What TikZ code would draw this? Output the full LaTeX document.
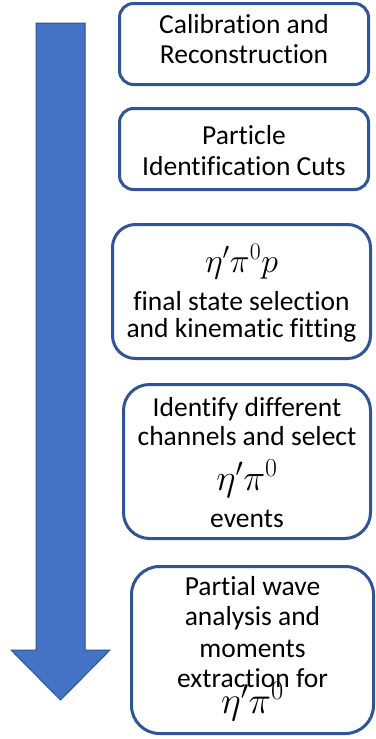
\RequirePackage{fix-cm}
\documentclass[tikz,border=0pt]{standalone}
\usepackage[no-math]{fontspec}
\setmainfont{Carlito}[Ligatures=NoCommon]
\definecolor{arrowfill}{HTML}{4472C4}
\definecolor{arrowline}{HTML}{2F528F}
\definecolor{boxline}{HTML}{2F5597}
% invisible struts that fix the height of a first line and the depth of a last line
\newcommand{\topstrut}[1]{\rule{0pt}{#1}}
\newcommand{\botstrut}[1]{\rule[-#1]{0pt}{#1}}
\newcommand{\bigmath}[2]{{\fontsize{#1}{#1}\selectfont$#2$}}
% always keep the baselines at the given skip
\lineskiplimit=-100pt
\tikzset{
  stage/.style={draw=boxline, line width=3pt, fill=white, align=center,
    inner sep=0pt, text=black, font=\fontsize{27.5}{30}\selectfont},
}
\begin{document}
\begin{tikzpicture}[x=1pt, y=-1pt]
  \useasboundingbox (0,0) rectangle (375,739);

  % the long downward arrow on the left
  \fill[arrowfill, draw=arrowline, line width=1pt]
    (36,23) -- (85,23) -- (85,650) -- (110,650) -- (60.5,700)
    -- (11,650) -- (36,650) -- cycle;

  % analysis stages
  \node[stage, rounded corners=14pt, minimum width=249pt, minimum height=81pt]
    (calib) at (244,44)
    {\topstrut{25pt}Calibration and\\Reconstruction\botstrut{17pt}};

  \node[stage, rounded corners=14pt, minimum width=249pt, minimum height=81pt]
    (pid) at (244,149)
    {\topstrut{25pt}Particle\\[1pt]Identification Cuts\botstrut{4pt}};

  \node[stage, rounded corners=23pt, minimum width=258pt, minimum height=134pt,
    font=\fontsize{27.5}{27}\selectfont]
    (fstate) at (241.5,291.5)
    {\topstrut{36pt}\bigmath{34}{\eta'\pi^0p}\\[11pt]final state selection\\
     and kinematic fitting\botstrut{10pt}};

  \node[stage, rounded corners=26pt, minimum width=247pt, minimum height=154pt]
    (channels) at (247,461.5)
    {\topstrut{25pt}Identify different\\[-1pt]channels and select\\[15pt]
     \bigmath{37}{\eta'\pi^0}\\[7pt]events\botstrut{5pt}};

  \node[stage, rounded corners=28pt, minimum width=242pt, minimum height=167pt]
    (pwa) at (252.5,650)
    {\topstrut{25pt}Partial wave\\analysis and\\[2pt]moments\\extraction for\\[-4pt]
     \bigmath{38}{\eta'\pi^0}\botstrut{17pt}};
\end{tikzpicture}
\end{document}
